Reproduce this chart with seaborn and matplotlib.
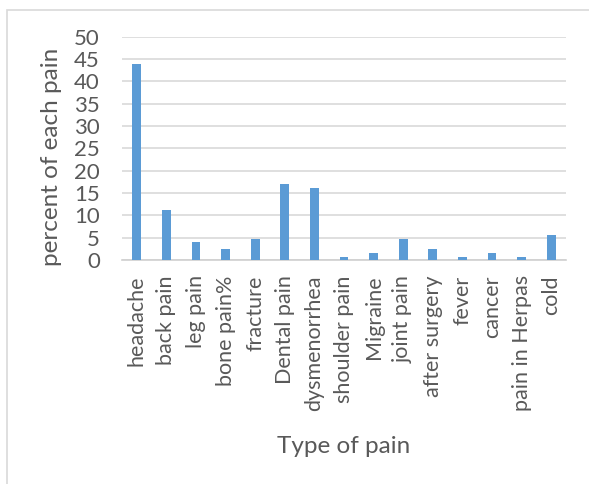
import matplotlib
matplotlib.use("Agg")
import matplotlib.pyplot as plt
import seaborn as sns
import pandas as pd
from matplotlib.patches import Rectangle

pain_types = ["headache", "back pain", "leg pain", "bone pain%", "fracture",
              "Dental pain", "dysmenorrhea", "shoulder pain", "Migraine",
              "joint pain", "after surgery", "fever", "cancer",
              "pain in Herpas", "cold"]
percents = [43.8, 11.3, 4.0, 2.4, 4.8, 17.0, 16.1, 0.7, 1.6, 4.8, 2.4,
            0.7, 1.6, 0.7, 5.6]
y_ticks = [0, 5, 10, 15, 20, 25, 30, 35, 40, 45, 50]

df = pd.DataFrame({"pain": pain_types, "percent": percents})

sns.set_theme(style="white")
plt.rcParams["font.family"] = ["Lato", "DejaVu Sans"]
text_color = "#595959"

W, H = 589, 484
fig = plt.figure(figsize=(W / 100, H / 100), dpi=100)
ax = fig.add_axes([122 / W, 1 - 260 / H, (566 - 122) / W, (260 - 36.7) / H])

sns.barplot(data=df, x="pain", y="percent", color="#5B9BD5", width=0.3,
            saturation=1, linewidth=0, edgecolor="none", ax=ax, zorder=3)

ax.set_ylim(0, 50)
ax.set_xlim(-0.5, len(pain_types) - 0.5)
ax.set_yticks(y_ticks)
ax.set_yticklabels([str(t) for t in y_ticks], fontsize=16, color=text_color)
ax.set_xticks(range(len(pain_types)))
ax.set_xticklabels(pain_types, rotation=90, fontsize=15.5, color=text_color)
ax.tick_params(axis="both", length=0)
ax.tick_params(axis="x", pad=11)
ax.tick_params(axis="y", pad=16)

ax.yaxis.grid(True, color="#d9d9d9", linewidth=1.2, zorder=0)
for s in ["top", "right", "left"]:
    ax.spines[s].set_visible(False)
ax.spines["bottom"].set_color("#d0d0d0")
ax.spines["bottom"].set_linewidth(1.2)

ax.set_ylabel("percent of each pain", fontsize=17.5, color=text_color)
ax.yaxis.set_label_coords(-0.135, 0.46)
ax.set_xlabel("Type of pain", fontsize=17.5, color=text_color, labelpad=18)

# chart area frame
fig.patches.append(Rectangle((7 / W, -0.1), 1.2, 1 - 10 / H + 0.1,
                             transform=fig.transFigure, fill=False,
                             edgecolor="#d9d9d9", linewidth=1.2))

fig.savefig("out.png", dpi=100, facecolor="white")
